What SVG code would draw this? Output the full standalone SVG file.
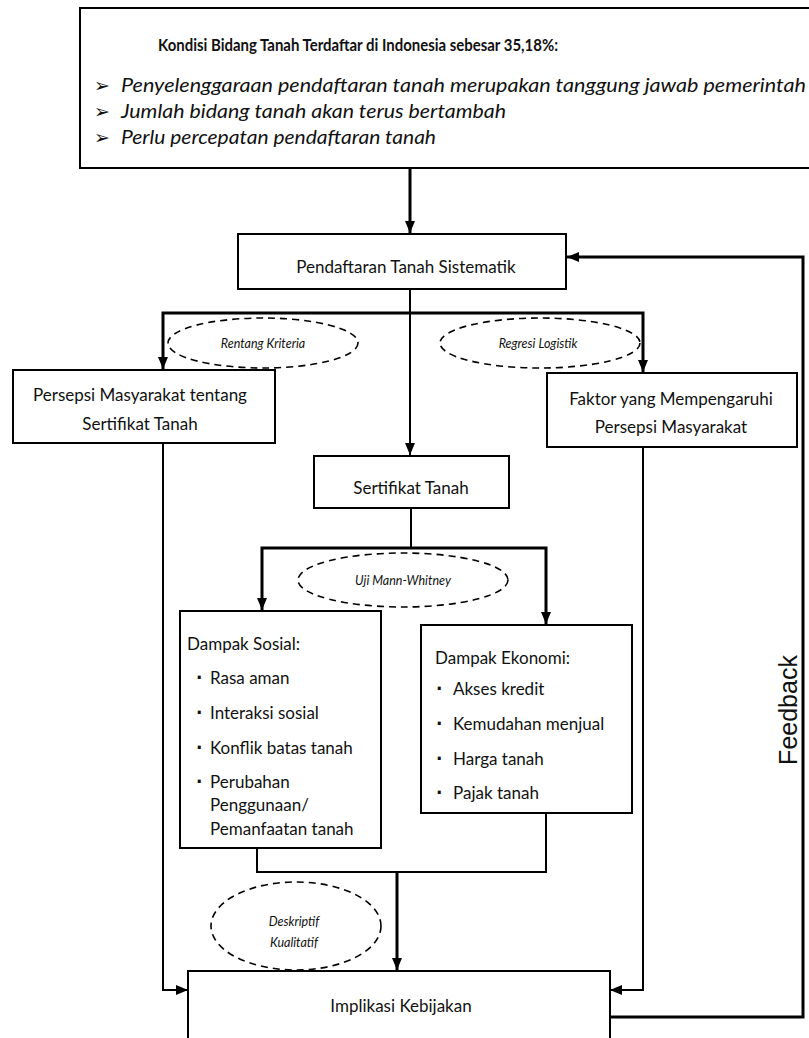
<svg xmlns="http://www.w3.org/2000/svg" width="809" height="1038" viewBox="0 0 809 1038">
<defs>
<style>
.box{fill:#fff;stroke:#000;stroke-width:2}
.t{font-family:Lato,"Liberation Sans",sans-serif;font-size:17px;fill:#111}
.c{text-anchor:middle}
.it{font-family:Lato,"Liberation Sans",sans-serif;font-style:italic;font-size:19px;fill:#111}
.el{fill:none;stroke:#000;stroke-width:1.6;stroke-dasharray:7 5}
.elt{font-family:Lato,"Liberation Sans",sans-serif;font-style:italic;font-size:12.5px;fill:#111;text-anchor:middle}
.ln{fill:none;stroke:#000;stroke-width:2}
.lnb{fill:none;stroke:#000;stroke-width:3}
.dot{font-family:"DejaVu Sans",sans-serif;font-size:17px;font-weight:bold;fill:#111}
.arr{font-family:"DejaVu Sans",sans-serif;font-size:19px;fill:#111}
</style>
<marker id="ah" viewBox="0 0 12 10" refX="12" refY="5" markerWidth="12" markerHeight="10" markerUnits="userSpaceOnUse" orient="auto">
<path d="M0,0 L12,5 L0,10 z" fill="#000"/>
</marker>
</defs>

<g id="connectors">
<path class="lnb" d="M410,168 V233" marker-end="url(#ah)"/>
<path class="ln" d="M410,289 V455" marker-end="url(#ah)"/>
<path class="lnb" d="M410,313 H163 V369" marker-end="url(#ah)"/>
<path class="lnb" d="M410,313 H643 V372" marker-end="url(#ah)"/>
<path class="ln" d="M163,443 V990 H188" marker-end="url(#ah)"/>
<path class="ln" d="M643,447 V990 H610" marker-end="url(#ah)"/>
<path class="ln" d="M411,508 V548"/>
<path class="lnb" d="M411,548 H262 V610" marker-end="url(#ah)"/>
<path class="lnb" d="M411,548 H546 V624" marker-end="url(#ah)"/>
<path class="ln" d="M257,848 V872 H546 V813"/>
<path class="lnb" d="M397,872 V970" marker-end="url(#ah)"/>
<path class="lnb" d="M610,1017 H803 V257 H567" marker-end="url(#ah)"/>
</g>

<g id="kondisi">
<rect class="box" x="80" y="8" width="760" height="160"/>
<text class="t" x="158" y="51" font-weight="bold" font-size="17.5" textLength="400" lengthAdjust="spacingAndGlyphs">Kondisi Bidang Tanah Terdaftar di Indonesia sebesar 35,18%:</text>
<text class="arr" x="94" y="92">➢</text>
<text class="arr" x="94" y="118">➢</text>
<text class="arr" x="94" y="144">➢</text>
<text class="it" x="121" y="92" textLength="685" lengthAdjust="spacingAndGlyphs">Penyelenggaraan pendaftaran tanah merupakan tanggung jawab pemerintah</text>
<text class="it" x="121" y="118" textLength="385" lengthAdjust="spacingAndGlyphs">Jumlah bidang tanah akan terus bertambah</text>
<text class="it" x="121" y="144" textLength="315" lengthAdjust="spacingAndGlyphs">Perlu percepatan pendaftaran tanah</text>
</g>

<g id="pendaftaran">
<rect class="box" x="238" y="234" width="328" height="55"/>
<text class="t c" x="406" y="273" font-size="18">Pendaftaran Tanah Sistematik</text>
</g>

<g id="rentang">
<ellipse class="el" cx="263" cy="343" rx="95" ry="25"/>
<text class="elt" x="263" y="348">Rentang  Kriteria</text>
</g>

<g id="regresi">
<ellipse class="el" cx="540" cy="343" rx="100" ry="25"/>
<text class="elt" x="538" y="348">Regresi Logistik</text>
</g>

<g id="persepsi">
<rect class="box" x="13" y="370" width="262" height="73"/>
<text class="t c" x="140" y="401">Persepsi Masyarakat tentang</text>
<text class="t c" x="140" y="430">Sertifikat Tanah</text>
</g>

<g id="faktor">
<rect class="box" x="547" y="373" width="250" height="74"/>
<text class="t c" x="671" y="405">Faktor yang  Mempengaruhi</text>
<text class="t c" x="671" y="433">Persepsi Masyarakat</text>
</g>

<g id="sertifikat">
<rect class="box" x="314" y="456" width="195" height="52"/>
<text class="t c" x="411" y="494" font-size="18">Sertifikat Tanah</text>
</g>

<g id="uji">
<ellipse class="el" cx="403" cy="580" rx="105" ry="27"/>
<text class="elt" x="403" y="585">Uji Mann-Whitney</text>
</g>

<g id="sosial">
<rect class="box" x="180" y="611" width="201" height="237"/>
<text class="t" x="187" y="650">Dampak Sosial:</text>
<text class="dot" x="196" y="684">·</text>
<text class="t" x="210" y="684">Rasa aman</text>
<text class="dot" x="196" y="719">·</text>
<text class="t" x="210" y="719">Interaksi sosial</text>
<text class="dot" x="196" y="754">·</text>
<text class="t" x="210" y="754">Konflik batas tanah</text>
<text class="dot" x="196" y="788">·</text>
<text class="t" x="210" y="788">Perubahan</text>
<text class="t" x="210" y="811">Penggunaan/</text>
<text class="t" x="210" y="835">Pemanfaatan tanah</text>
</g>

<g id="ekonomi">
<rect class="box" x="421" y="625" width="211" height="188"/>
<text class="t" x="435" y="664">Dampak Ekonomi:</text>
<text class="dot" x="436" y="695">·</text>
<text class="t" x="453" y="695">Akses kredit</text>
<text class="dot" x="436" y="730">·</text>
<text class="t" x="453" y="730">Kemudahan menjual</text>
<text class="dot" x="436" y="765">·</text>
<text class="t" x="453" y="765">Harga tanah</text>
<text class="dot" x="436" y="799">·</text>
<text class="t" x="453" y="799">Pajak tanah</text>
</g>

<g id="deskriptif">
<ellipse class="el" cx="296" cy="926" rx="85" ry="44"/>
<text class="elt" x="294" y="926">Deskriptif</text>
<text class="elt" x="294" y="947">Kualitatif</text>
</g>

<g id="implikasi">
<rect class="box" x="188" y="971" width="422" height="80"/>
<text class="t c" x="401" y="1012" font-size="18">Implikasi Kebijakan</text>
</g>

<g id="feedback">
<text transform="translate(797,710) rotate(-90)" text-anchor="middle" font-family="Liberation Sans,Arial,sans-serif" font-size="25" fill="#111">Feedback</text>
</g>
</svg>
